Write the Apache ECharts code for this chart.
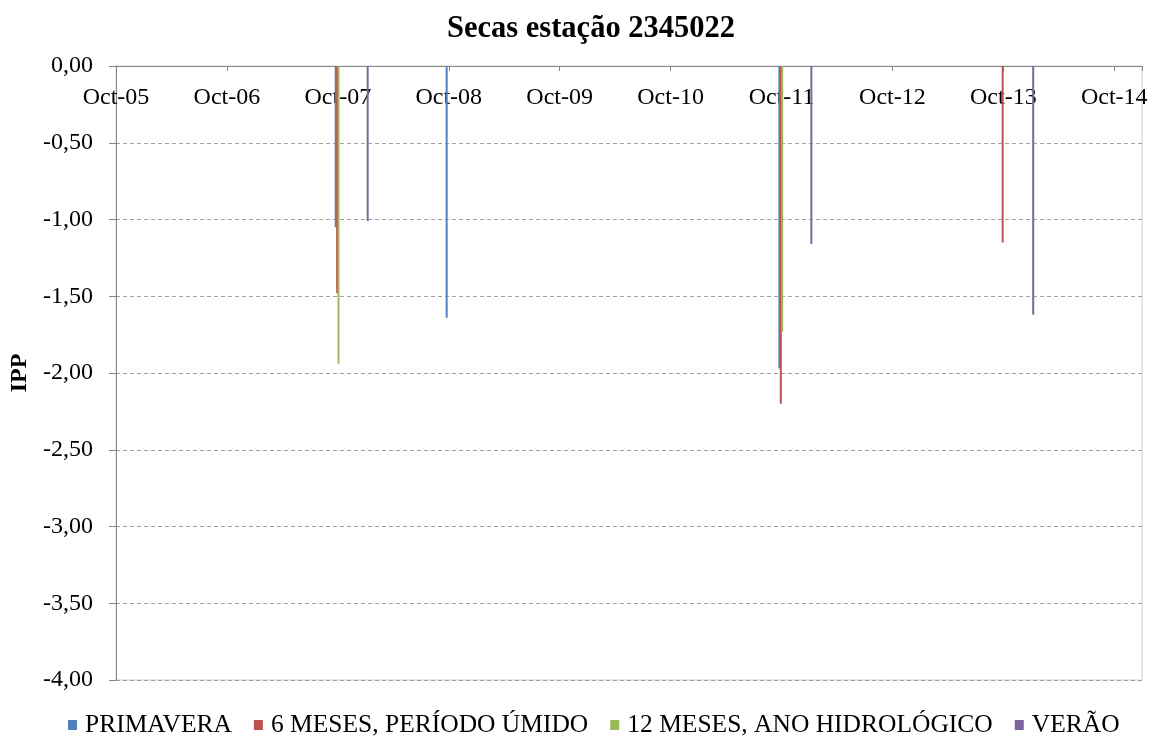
<!DOCTYPE html>
<html>
<head>
<meta charset="utf-8">
<script src="https://cdn.jsdelivr.net/npm/echarts@6/dist/echarts.min.js"></script>
<style>html,body{margin:0;padding:0;background:#fff;}#c{width:1159px;height:736px;}</style>
</head>
<body>
<div id="c"></div>
<script>
// ---- data ----
const dates = ['2007-10', '2008-01', '2008-10', '2011-10', '2012-01', '2013-10', '2014-01'];
const primavera = [-1.05, null, -1.64, -1.97, null, null, null];
const seisMeses = [-1.48, null, null, -2.20, null, -1.15, null];
const dozeMeses = [-1.94, null, null, -1.73, null, null, null];
const verao = [null, -1.01, null, null, -1.16, null, -1.62];
const seriesNames = ['PRIMAVERA', '6 MESES, PERÍODO ÚMIDO', '12 MESES, ANO HIDROLÓGICO', 'VERÃO'];
const monthNames = ['Jan','Feb','Mar','Apr','May','Jun','Jul','Aug','Sep','Oct','Nov','Dec'];
const startYear = 2005, startMonth = 10; // axis origin Oct-05
const axisEndMonths = 111; // Jan-15

function monthIndex(s) {
  const [y, m] = s.split('-').map(Number);
  return (y - startYear) * 12 + (m - startMonth);
}
function pairs(vals) {
  const out = [];
  vals.forEach((v, i) => { if (v !== null) out.push([monthIndex(dates[i]), v]); });
  return out;
}
const colors = ['#4F81BD', '#C0504D', '#9BBB59', '#8064A2'];
const font = 'Liberation Serif, Times New Roman, serif';
const allSeries = [primavera, seisMeses, dozeMeses, verao];

const chart = echarts.init(document.getElementById('c'), null, {renderer: 'canvas'});
chart.setOption({
  animation: false,
  backgroundColor: '#fff',
  color: colors,
  title: {
    text: 'Secas estação 2345022',
    left: 442, top: 9,
    textStyle: {fontFamily: font, fontSize: 30.5, fontWeight: 'bold', color: '#000'}
  },
  legend: {
    data: seriesNames,
    left: 63, top: 707,
    itemWidth: 9, itemHeight: 10, itemGap: 22,
    icon: 'rect',
    textStyle: {fontFamily: font, fontSize: 25.5, color: '#000', padding: [0, 0, 0, 3]}
  },
  grid: {
    left: 116, top: 66, right: 17, bottom: 56,
    show: true, borderColor: '#d0d0d0', borderWidth: 1
  },
  xAxis: {
    type: 'value',
    position: 'top',
    min: 0, max: axisEndMonths, interval: 12,
    axisLine: {show: true, onZero: false, lineStyle: {color: '#868686'}},
    axisTick: {show: true, inside: true, length: 5, lineStyle: {color: '#868686'}},
    splitLine: {show: false},
    axisLabel: {
      inside: true, margin: 20,
      fontFamily: font, fontSize: 24, color: '#000',
      formatter: v => {
        if (v % 12 !== 0) return '';
        const total = startMonth - 1 + v;
        const y = startYear + Math.floor(total / 12);
        const m = total % 12;
        return monthNames[m] + '-' + String(y % 100).padStart(2, '0');
      }
    }
  },
  yAxis: {
    type: 'value',
    min: -4, max: 0, interval: 0.5,
    name: 'IPP',
    nameLocation: 'middle',
    nameRotate: 90,
    nameGap: 78,
    nameTextStyle: {fontFamily: font, fontSize: 24, fontWeight: 'bold', color: '#000'},
    axisLine: {show: true, lineStyle: {color: '#868686'}},
    axisTick: {show: true, length: 7, lineStyle: {color: '#868686'}},
    splitLine: {show: true, lineStyle: {color: '#a0a0a0', type: [4, 3], width: 1}},
    axisLabel: {
      margin: 23,
      fontFamily: font, fontSize: 24, color: '#000',
      formatter: v => v.toFixed(2).replace('.', ',')
    }
  },
  series: allSeries.map((vals, i) => ({
    name: seriesNames[i],
    type: 'bar',
    data: pairs(vals),
    barWidth: 2,
    barGap: '-30%',
    itemStyle: {color: colors[i]}
  }))
});
</script>
</body>
</html>
